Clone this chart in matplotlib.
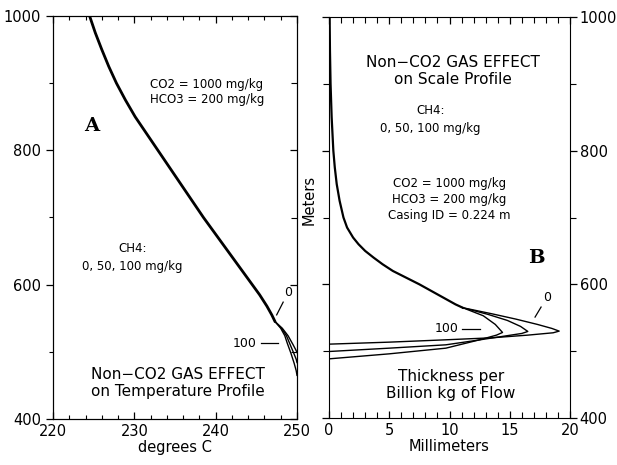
import matplotlib
matplotlib.use("Agg")
import matplotlib.pyplot as plt
from matplotlib.ticker import MultipleLocator

# ---------------- data ----------------
# Panel A: temperature (deg C) vs meters, common upper part
a_common_temp = [224.5, 225.2, 226.0, 226.85, 227.8, 228.9, 230.1, 231.5, 232.9, 234.3,
                 235.7, 237.1, 238.5, 240.0, 241.5, 243.0, 244.5, 245.4, 246.3, 246.9, 247.3]
a_common_m    = [1000, 975, 950, 925, 900, 875, 850, 825, 800, 775,
                 750, 725, 700, 675, 650, 625, 600, 585, 568, 555, 545]
# branches for CH4 = 0, 50, 100 mg/kg
a_ch4_0_temp   = [247.3, 248.2, 248.9, 249.5, 249.85, 250.0]
a_ch4_0_m      = [545, 535, 524, 511, 503, 499]
a_ch4_50_temp  = [247.3, 248.1, 248.7, 249.15, 249.6, 249.9, 250.0]
a_ch4_50_m     = [545, 535, 524, 511, 498, 489, 484]
a_ch4_100_temp = [247.3, 248.0, 248.5, 248.8, 249.25, 249.65, 249.9, 250.0]
a_ch4_100_m    = [545, 535, 524, 513, 498, 483, 472, 465]

# Panel B: scale thickness (mm per billion kg flow) vs meters
b_common_mm = [0.05, 0.08, 0.13, 0.22, 0.36, 0.48, 0.64, 0.88, 1.2, 1.5, 2.0, 2.45,
               3.0, 3.7, 4.45, 5.3, 6.4, 7.5, 8.5, 9.5, 10.5, 11.1]
b_common_m  = [1000, 950, 900, 850, 800, 775, 750, 725, 700, 685, 670, 660,
               650, 640, 630, 620, 610, 600, 590, 580, 570, 565]
b_ch4_0_mm   = [11.1, 13.5, 15.5, 17.3, 18.5, 19.1, 18.6, 16.5, 13.5, 9.7, 5.0, 0.0]
b_ch4_0_m    = [565, 556, 548, 540, 534, 530, 527.5, 524, 520, 517, 513.5, 510.5]
b_ch4_50_mm  = [11.1, 13.2, 14.8, 15.9, 16.5, 16.0, 14.0, 11.8, 9.7, 5.0, 0.0]
b_ch4_50_m   = [565, 555, 546, 537, 529.5, 526.5, 521, 515, 509.5, 504.5, 499.5]
b_ch4_100_mm = [11.1, 12.8, 13.8, 14.4, 13.9, 12.5, 9.7, 5.0, 0.0]
b_ch4_100_m  = [565, 553, 540, 528, 524, 517, 504.5, 496, 488.5]

a_xticks = [220, 230, 240, 250]
b_xticks = [0, 5, 10, 15, 20]
yticks = [400, 600, 800, 1000]

plt.rcParams['font.family'] = ['DejaVu Sans']

fig = plt.figure(figsize=(6.17, 4.65), dpi=100)
axA = fig.add_axes([53/617, 1-419/465, (297-53)/617, (419-16)/465])
axB = fig.add_axes([329/617, 1-418/465, (570-329)/617, (418-17)/465])

lw = 1.0
# ---- Panel A ----
axA.plot(a_common_temp, a_common_m, color='black', lw=2.0, solid_capstyle='round')
for t, m in [(a_ch4_0_temp, a_ch4_0_m), (a_ch4_50_temp, a_ch4_50_m), (a_ch4_100_temp, a_ch4_100_m)]:
    axA.plot(t, m, color='black', lw=lw)
axA.set_xlim(220, 250)
axA.set_ylim(400, 1000)
axA.set_xticks(a_xticks)
axA.set_yticks(yticks)
axA.xaxis.set_minor_locator(MultipleLocator(2))
axA.yaxis.set_minor_locator(MultipleLocator(100))
axA.tick_params(axis='x', which='both', direction='in', top=True, bottom=True, labelsize=10.5)
axA.tick_params(axis='y', which='both', direction='out', left=True, right=False, labelsize=10.5)
axA.tick_params(which='major', length=5, width=0.9)
axA.tick_params(which='minor', length=3, width=0.8)
# inward ticks on right spine of panel A
axA2 = axA.twinx()
axA2.set_ylim(400, 1000)
axA2.set_yticks(yticks)
axA2.yaxis.set_minor_locator(MultipleLocator(100))
axA2.tick_params(axis='y', which='both', direction='in', labelright=False)
axA2.tick_params(which='major', length=5, width=0.9)
axA2.tick_params(which='minor', length=4, width=0.8)
axA.set_xlabel('degrees C', fontsize=10.5, labelpad=1)

axA.text(238.9, 887, 'CO2 = 1000 mg/kg\nHCO3 = 200 mg/kg',
         ha='center', va='center', fontsize=8.5, linespacing=1.15)
axA.text(224.8, 836, 'A', fontsize=14, fontweight='bold', family='DejaVu Serif',
         ha='center', va='center')
axA.text(229.8, 641, 'CH4:\n0, 50, 100 mg/kg', ha='center', va='center', fontsize=8.5,
         linespacing=1.5)
axA.text(235.4, 454, 'Non\u2212CO2 GAS EFFECT\non Temperature Profile', ha='center',
         va='center', fontsize=11, linespacing=1.2)
axA.text(248.9, 589, '0', ha='center', va='center', fontsize=9)
axA.plot([247.5, 248.3], [555, 574], color='black', lw=0.9)
axA.text(243.6, 513, '100', ha='center', va='center', fontsize=9)
axA.plot([245.6, 247.7], [513, 513], color='black', lw=0.9)

# ---- Panel B ----
axB.plot(b_common_mm, b_common_m, color='black', lw=1.6)
for t, m in [(b_ch4_0_mm, b_ch4_0_m), (b_ch4_50_mm, b_ch4_50_m), (b_ch4_100_mm, b_ch4_100_m)]:
    axB.plot(t, m, color='black', lw=lw)
axB.set_xlim(0, 20)
axB.set_ylim(400, 1000)
axB.set_xticks(b_xticks)
axB.set_yticks(yticks)
axB.xaxis.set_minor_locator(MultipleLocator(1))
axB.yaxis.set_minor_locator(MultipleLocator(100))
axB.tick_params(axis='x', which='both', direction='in', top=True, bottom=True, labelsize=10.5)
axB.tick_params(axis='y', which='both', direction='out', left=True, right=True,
                labelleft=False, labelright=True, labelsize=10.5)
axB.tick_params(which='major', length=5, width=0.9)
axB.tick_params(which='minor', length=4, width=0.8)
axB.tick_params(axis='y', which='major', pad=2)
axB.set_xlabel('Millimeters', fontsize=10.5, labelpad=1)
fig.text(309/617, 1-200/465, 'Meters', rotation=90, ha='center', va='center', fontsize=10.5)

axB.text(10.3, 919, 'Non\u2212CO2 GAS EFFECT\non Scale Profile', ha='center', va='center',
         fontsize=11, linespacing=1.2)
axB.text(8.4, 847, 'CH4:\n0, 50, 100 mg/kg', ha='center', va='center', fontsize=8.5,
         linespacing=1.45)
axB.text(10.0, 727, 'CO2 = 1000 mg/kg\nHCO3 = 200 mg/kg\nCasing ID = 0.224 m',
         ha='center', va='center', fontsize=8.5, linespacing=1.3)
axB.text(17.25, 639, 'B', fontsize=14, fontweight='bold', family='DejaVu Serif',
         ha='center', va='center')
axB.text(18.1, 580, '0', ha='center', va='center', fontsize=9)
axB.plot([17.1, 17.6], [551, 566], color='black', lw=0.9)
axB.text(9.8, 534, '100', ha='center', va='center', fontsize=9)
axB.plot([11.05, 12.5], [533, 533], color='black', lw=0.9)
axB.text(10.1, 449, 'Thickness per\nBillion kg of Flow', ha='center', va='center',
         fontsize=11, linespacing=1.2)

fig.savefig('out.png', dpi=100)
